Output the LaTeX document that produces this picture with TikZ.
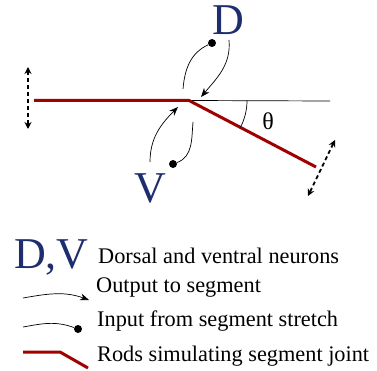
\documentclass[tikz,border=0pt]{standalone}
\usepackage{fontspec}
\setmainfont{Liberation Serif}
\usetikzlibrary{arrows.meta}
\definecolor{rodred}{RGB}{160,0,0}
\definecolor{nblue}{RGB}{30,45,110}
\begin{document}
\begin{tikzpicture}[x=1pt,y=-1pt,
  rod/.style={draw=rodred,line width=3pt},
  thin/.style={draw=black,line width=0.7pt},
  outarrow/.style={thin,-{Stealth[length=9pt,width=7pt]}},
  dotnode/.style={circle,fill=black,inner sep=0pt,minimum size=8pt},
  neur/.style={text=nblue,font=\fontsize{44}{44}\selectfont,inner sep=0pt},
  lbl/.style={font=\fontsize{22.3}{24}\selectfont,anchor=west,inner sep=0pt},
  dash2/.style={line width=1.8pt,dash pattern=on 4pt off 3pt,{Stealth[length=7pt,width=7pt]}-{Stealth[length=7pt,width=7pt]}}]
\useasboundingbox (0,0) rectangle (377,371);
% main geometry
\coordinate (joint) at (189,100.5);
\coordinate (lend) at (34,100.5);
\coordinate (hend) at (330,101);
\coordinate (tend) at (316,167);
\draw[thin] (joint) -- (hend);
\draw[rod] (lend) -- (joint) -- (tend);
\draw[thin] ([shift={(0:58pt)}]joint) arc[start angle=0,end angle=-27.5,radius=58pt];
\node[font=\fontsize{24}{24}\selectfont,inner sep=0pt] (theta) at (268,121) {θ};
% dashed double arrows
\coordinate (la1) at (28,67);
\coordinate (la2) at (28,129);
\draw[dash2] (la1) -- (la2);
\coordinate (ra1) at (335,140);
\coordinate (ra2) at (308,196);
\draw[dash2] (ra1) -- (ra2);
% neurons
\node[neur] (D) at (228,20) {D};
\node[neur] (V) at (150,188) {V};
\node[dotnode] (dD) at (212,43) {};
\node[dotnode] (dV) at (173,164) {};
\coordinate (dDend) at (183,89);
\coordinate (dDout) at (229,40);
\coordinate (dDtip) at (201,97);
\coordinate (vout) at (150,162);
\coordinate (vtip) at (178,107);
\coordinate (dVend) at (193,122);
\draw[thin] (dD) to[out=205,in=85] (dDend);
\draw[outarrow] (dDout) to[out=-85,in=50] (dDtip);
\draw[outarrow] (vout) to[out=90,in=225] (vtip);
\draw[thin] (dV) to[out=20,in=-95] (dVend);
% legend
\node[neur,anchor=west] (DV) at (14,257) {D,V};
\node[lbl] (l1) at (98,256) {Dorsal and ventral neurons};
\node[lbl] (l2) at (96,288) {Output to segment};
\node[lbl] (l3) at (97,321) {Input from segment stretch};
\node[lbl] (l4) at (97,356) {Rods simulating segment joint};
\coordinate (a1) at (23,298);
\coordinate (a2) at (89,300);
\draw[outarrow] (a1) to[out=10,in=160] (a2);
\coordinate (b1) at (23,327);
\node[dotnode] (bdot) at (78,329) {};
\draw[thin] (b1) to[out=10,in=160] (bdot);
\coordinate (c1) at (23,352);
\coordinate (c2) at (60,352);
\coordinate (c3) at (88,368);
\draw[rod] (c1) -- (c2) -- (c3);
\end{tikzpicture}
\end{document}
